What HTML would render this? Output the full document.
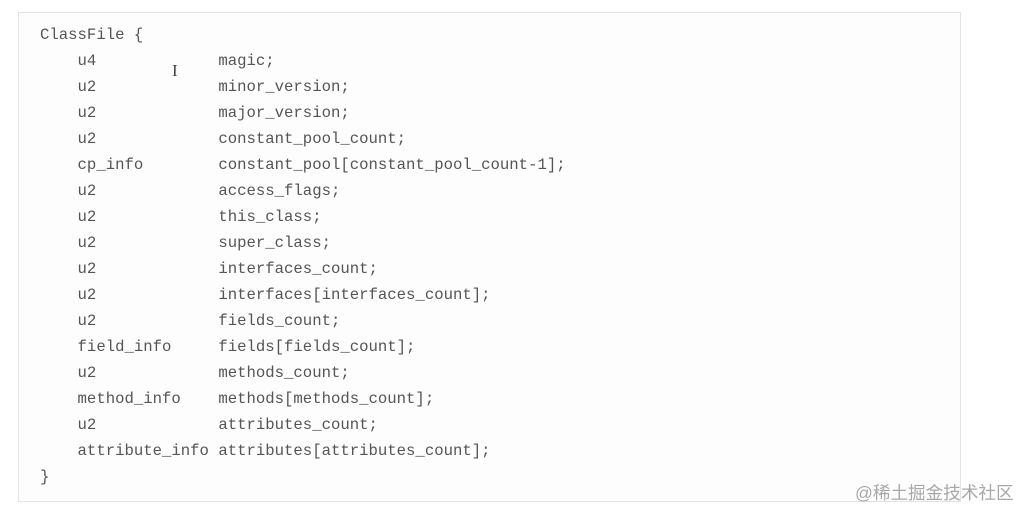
<!DOCTYPE html>
<html><head><meta charset="utf-8"><style>
html,body{margin:0;padding:0;background:#fff;width:1022px;height:509px;overflow:hidden;position:relative}
.box{position:absolute;left:18px;top:12px;width:943px;height:490px;border:1px solid #e3e3e3;background:#fdfdfd;box-sizing:border-box}
pre{position:absolute;left:40px;top:22px;margin:0;font-family:"Liberation Mono",monospace;font-size:15.65px;line-height:26px;color:#555}
.wm{position:absolute;left:855px;top:480px;font-family:"Liberation Sans","Noto Sans CJK SC",sans-serif;font-size:17.6px;color:#a8a8a8}
.cur{position:absolute;left:172px;top:61px;font-family:"Liberation Serif",serif;font-size:17px;color:#444}
</style></head><body>
<div class="box"></div>
<pre>ClassFile {
    u4             magic;
    u2             minor_version;
    u2             major_version;
    u2             constant_pool_count;
    cp_info        constant_pool[constant_pool_count-1];
    u2             access_flags;
    u2             this_class;
    u2             super_class;
    u2             interfaces_count;
    u2             interfaces[interfaces_count];
    u2             fields_count;
    field_info     fields[fields_count];
    u2             methods_count;
    method_info    methods[methods_count];
    u2             attributes_count;
    attribute_info attributes[attributes_count];
}</pre>
<div class="cur">I</div>
<div class="wm">@稀土掘金技术社区</div>
</body></html>
